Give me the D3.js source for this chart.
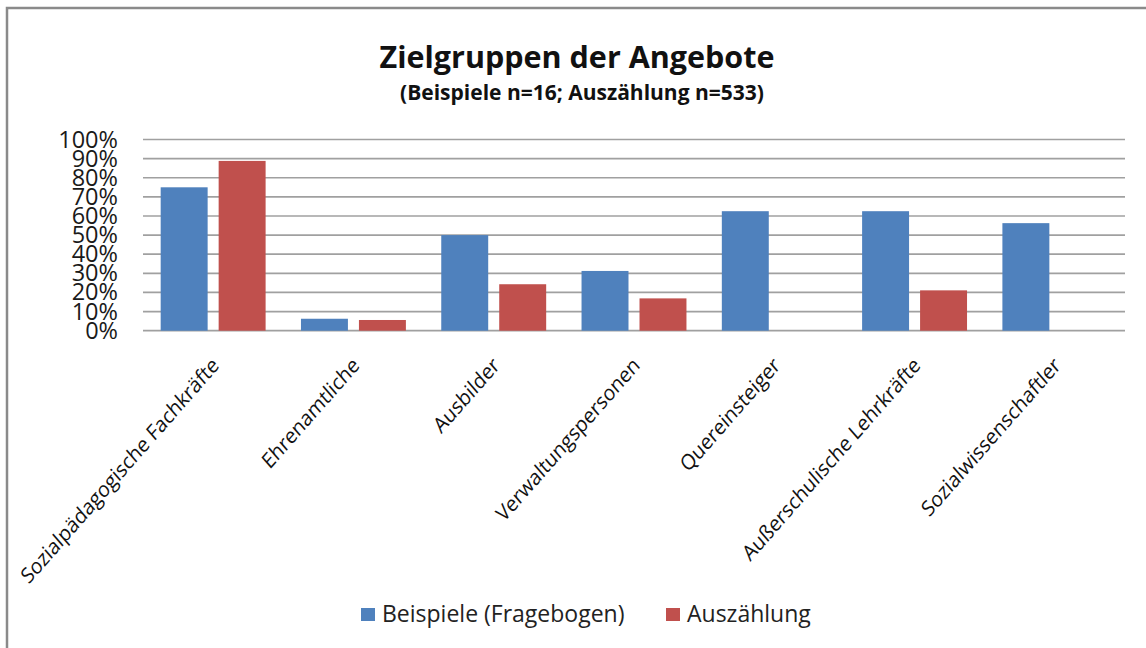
<!DOCTYPE html>
<html lang="de">
<head>
    <meta charset="UTF-8">
    <title>Zielgruppen der Angebote</title>
    <script src="https://d3js.org/d3.v7.min.js"></script>
    <style>
        body { margin: 0; background: #fff; }
        text { font-family: "Open Sans", "DejaVu Sans", sans-serif; fill: #111; }
    </style>
</head>
<body>
    <svg id="chart" width="1146" height="648"></svg>

    <script>
        // data (percent)
        const categories = ["Sozialpädagogische Fachkräfte", "Ehrenamtliche", "Ausbilder",
                            "Verwaltungspersonen", "Quereinsteiger", "Außerschulische Lehrkräfte",
                            "Sozialwissenschaftler"];
        const seriesNames = ["Beispiele (Fragebogen)", "Auszählung"];
        const beispiele = [75, 6.25, 50, 31.25, 62.5, 62.5, 56.25];
        const auszaehlung = [88.8, 5.6, 24.3, 16.9, null, 21.1, null];
        const yTicks = [0, 10, 20, 30, 40, 50, 60, 70, 80, 90, 100];
        const colors = ["#4f81bd", "#c0504d"];

        const seriesValues = [beispiele, auszaehlung];

        const svg = d3.select("#chart");

        // outer frame (only top and left edges are visible in the picture)
        svg.append("rect")
            .attr("x", 7).attr("y", 8)
            .attr("width", 1160).attr("height", 660)
            .attr("fill", "none")
            .attr("stroke", "#8a8a8a")
            .attr("stroke-width", 2.5);

        const plot = { left: 143, right: 1125, top: 139.5, bottom: 330.7 };

        const x = d3.scaleBand()
            .domain(categories)
            .range([plot.left, plot.right])
            .padding(0);

        const x1 = d3.scaleBand()
            .domain(seriesNames)
            .range([0, x.bandwidth()])
            .paddingInner(0.19)
            .paddingOuter(0.305);

        const y = d3.scaleLinear()
            .domain([0, 100])
            .range([plot.bottom, plot.top]);

        // gridlines
        svg.append("g")
            .selectAll("line")
            .data(yTicks)
            .enter().append("line")
            .attr("x1", plot.left)
            .attr("x2", plot.right)
            .attr("y1", d => y(d))
            .attr("y2", d => y(d))
            .attr("stroke", "#a0a0a0")
            .attr("stroke-width", 1.7);

        // bars
        seriesValues.forEach(function(vals, s) {
            svg.append("g")
                .selectAll("rect")
                .data(categories.map((c, i) => ({ cat: c, v: vals[i] })).filter(d => d.v != null))
                .enter().append("rect")
                .attr("x", d => x(d.cat) + x1(seriesNames[s]))
                .attr("width", x1.bandwidth())
                .attr("y", d => y(d.v))
                .attr("height", d => y(0) - y(d.v))
                .attr("fill", colors[s]);
        });

        // y axis labels
        const yAxis = svg.append("g")
            .attr("transform", "translate(" + (plot.left - 25) + ",0)")
            .call(d3.axisLeft(y).tickValues(yTicks).tickSize(0).tickFormat(d => d + "%"));
        yAxis.select(".domain").remove();
        yAxis.selectAll("text")
            .attr("x", 0)
            .style("font-family", "'Open Sans', sans-serif")
            .style("font-size", "23.5px")
            .style("fill", "#1a1a1a");

        // x axis labels, rotated (the picture looks slightly stretched vertically)
        svg.append("g")
            .selectAll("text")
            .data(categories)
            .enter().append("text")
            .attr("transform", d => "translate(" + (x(d) + x.bandwidth() / 2 + 7) + "," + (plot.bottom + 36) + ") scale(1,1.14) rotate(-45)")
            .attr("text-anchor", "end")
            .style("font-size", "19px")
            .text(d => d);

        // titles
        svg.append("text")
            .attr("x", 577).attr("y", 68)
            .attr("text-anchor", "middle")
            .style("font-size", "30.5px")
            .style("font-weight", "bold")
            .text("Zielgruppen der Angebote");

        svg.append("text")
            .attr("x", 582).attr("y", 100)
            .attr("text-anchor", "middle")
            .style("font-size", "21px")
            .style("font-weight", "bold")
            .text("(Beispiele n=16; Auszählung n=533)");

        // legend
        const legendX = [361, 666];
        const legend = svg.append("g");
        seriesNames.forEach(function(name, s) {
            legend.append("rect")
                .attr("x", legendX[s]).attr("y", 608)
                .attr("width", 14).attr("height", 13)
                .attr("fill", colors[s]);
            legend.append("text")
                .attr("x", legendX[s] + 21).attr("y", 622)
                .style("font-size", "23px")
                .style("fill", "#222")
                .text(name);
        });
    </script>
</body>
</html>
